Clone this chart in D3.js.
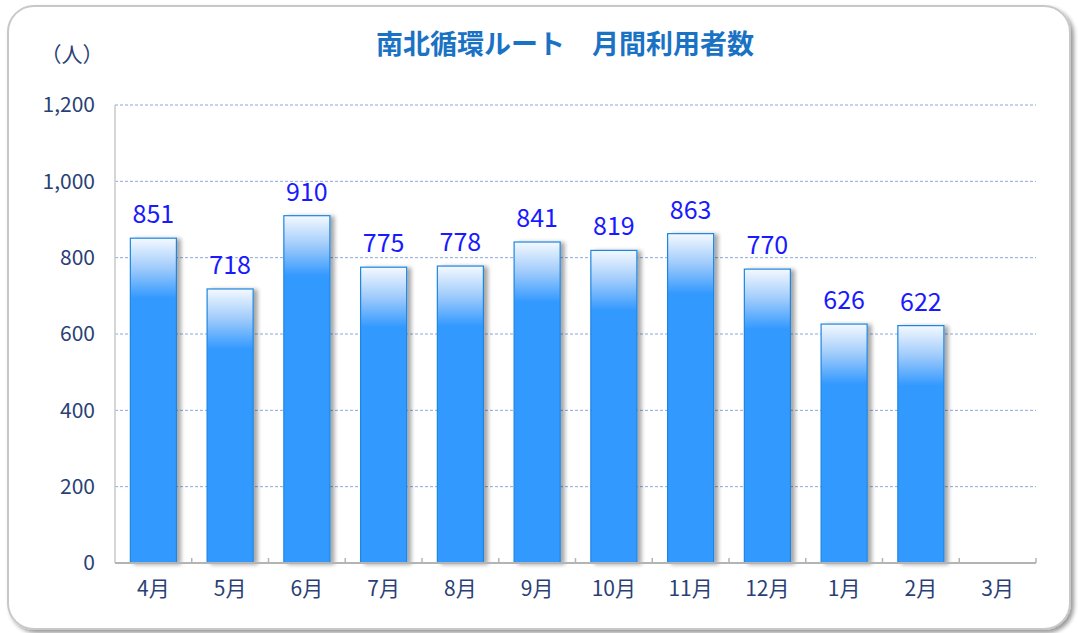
<!DOCTYPE html>
<html>
<head>
<meta charset="utf-8">
<script src="https://cdn.jsdelivr.net/npm/d3@7"></script>
<style>
  body { margin: 0; background: #fff; }
  text { font-family: "Noto Sans CJK JP", "Noto Sans", sans-serif; }
</style>
</head>
<body>
<div id="chart"></div>
<script>
// 月間利用者数
var months = ["4月", "5月", "6月", "7月", "8月", "9月", "10月", "11月", "12月", "1月", "2月", "3月"];
var riders = [851, 718, 910, 775, 778, 841, 819, 863, 770, 626, 622, null];
var yTicks = [0, 200, 400, 600, 800, 1000, 1200];

var W = 1078, H = 633;
var margin = {top: 105, right: 42, bottom: 70, left: 115};
var width = W - margin.left - margin.right,
    height = H - margin.top - margin.bottom;

var svg = d3.select("#chart").append("svg")
    .attr("width", W).attr("height", H);

var defs = svg.append("defs");
var shadow = defs.append("filter").attr("id", "shadow")
    .attr("x", "-20%").attr("y", "-10%").attr("width", "150%").attr("height", "130%");
shadow.append("feGaussianBlur").attr("in", "SourceAlpha").attr("stdDeviation", 2);
shadow.append("feOffset").attr("dx", 4).attr("dy", 1).attr("result", "b");
shadow.append("feComponentTransfer").append("feFuncA").attr("type", "linear").attr("slope", 0.35);
var m = shadow.append("feMerge");
m.append("feMergeNode");
m.append("feMergeNode").attr("in", "SourceGraphic");

var frameShadow = defs.append("filter").attr("id", "fshadow")
    .attr("x", "-5%").attr("y", "-5%").attr("width", "110%").attr("height", "110%");
frameShadow.append("feGaussianBlur").attr("in", "SourceAlpha").attr("stdDeviation", 2);
frameShadow.append("feOffset").attr("dx", 3).attr("dy", 3).attr("result", "b");
frameShadow.append("feComponentTransfer").append("feFuncA").attr("type", "linear").attr("slope", 0.4);
var fm = frameShadow.append("feMerge");
fm.append("feMergeNode");
fm.append("feMergeNode").attr("in", "SourceGraphic");

// frame
svg.append("rect")
    .attr("x", 8).attr("y", 6).attr("width", W - 16).attr("height", H - 10)
    .attr("rx", 26).attr("ry", 26)
    .attr("fill", "#fff").attr("stroke", "#c8c8c8").attr("stroke-width", 2)
    .attr("filter", "url(#fshadow)");

var g = svg.append("g").attr("transform", `translate(${margin.left},${margin.top})`);

var x = d3.scaleBand().domain(months).range([0, width]).paddingInner(0.4).paddingOuter(0.2);
var y = d3.scaleLinear().domain([0, 1200]).range([height, 0]);

// grid
g.selectAll(".grid").data(yTicks.filter(d => d > 0)).enter().append("line")
    .attr("x1", 0).attr("x2", width)
    .attr("y1", d => y(d)).attr("y2", d => y(d))
    .attr("stroke", "#8aa8dc").attr("stroke-width", 1).attr("stroke-dasharray", "3,2");

// left axis line
g.append("line").attr("x1", 0).attr("x2", 0).attr("y1", 0).attr("y2", height)
    .attr("stroke", "#c8c8c8").attr("stroke-width", 1.5);

// y labels
g.selectAll(".ylab").data(yTicks).enter().append("text")
    .attr("x", -20).attr("y", d => y(d)).attr("dy", "0.35em")
    .attr("text-anchor", "end").attr("font-size", 21).attr("fill", "#2a3f75")
    .text(d => d3.format(",")(d));

svg.append("text").attr("x", 72).attr("y", 62).attr("text-anchor", "middle")
    .attr("font-size", 21).attr("fill", "#2a3f75").text("（人）");

// bars
var data = months.map((mm, i) => ({m: mm, v: riders[i]})).filter(d => d.v != null);
data.forEach(function (d, i) {
  var h = height - y(d.v);
  var gr = defs.append("linearGradient").attr("id", "grad" + i)
      .attr("x1", 0).attr("x2", 0).attr("y1", 0).attr("y2", 1);
  gr.append("stop").attr("offset", 0).attr("stop-color", "#f4f9ff");
  gr.append("stop").attr("offset", Math.min(1, 30 / h)).attr("stop-color", "#9fcbfb");
  gr.append("stop").attr("offset", Math.min(1, 60 / h)).attr("stop-color", "#3399ff");
  gr.append("stop").attr("offset", 1).attr("stop-color", "#3399ff");
});

g.selectAll(".bar").data(data).enter().append("rect")
    .attr("x", d => x(d.m)).attr("y", d => y(d.v))
    .attr("width", x.bandwidth()).attr("height", d => height - y(d.v))
    .attr("fill", (d, i) => "url(#grad" + i + ")")
    .attr("stroke", "#1f86e0").attr("stroke-width", 1.2)
    .attr("filter", "url(#shadow)");

// bottom axis
g.append("line").attr("x1", 0).attr("x2", width).attr("y1", height).attr("y2", height)
    .attr("stroke", "#b4b4b4").attr("stroke-width", 2);
g.selectAll(".tick").data(months).enter().append("line")
    .attr("x1", d => x(d) + x.bandwidth() + x.step() * 0.2)
    .attr("x2", d => x(d) + x.bandwidth() + x.step() * 0.2)
    .attr("y1", height - 5).attr("y2", height)
    .attr("stroke", "#b4b4b4").attr("stroke-width", 1.5);

g.selectAll(".xlab").data(months).enter().append("text")
    .attr("x", d => x(d) + x.bandwidth() / 2).attr("y", height + 33)
    .attr("text-anchor", "middle").attr("font-size", 21).attr("fill", "#2a3f75")
    .text(d => d);

// value labels
g.selectAll(".val").data(data).enter().append("text")
    .attr("x", d => x(d.m) + x.bandwidth() / 2).attr("y", d => y(d.v) - 15)
    .attr("text-anchor", "middle").attr("font-size", 25).attr("fill", "#1a1aff")
    .text(d => d.v);

// title
svg.append("text").attr("x", 565).attr("y", 54).attr("text-anchor", "middle")
    .attr("font-size", 27).attr("font-weight", "bold").attr("fill", "#1a72c4")
    .text("南北循環ルート　月間利用者数");
</script>
</body>
</html>
